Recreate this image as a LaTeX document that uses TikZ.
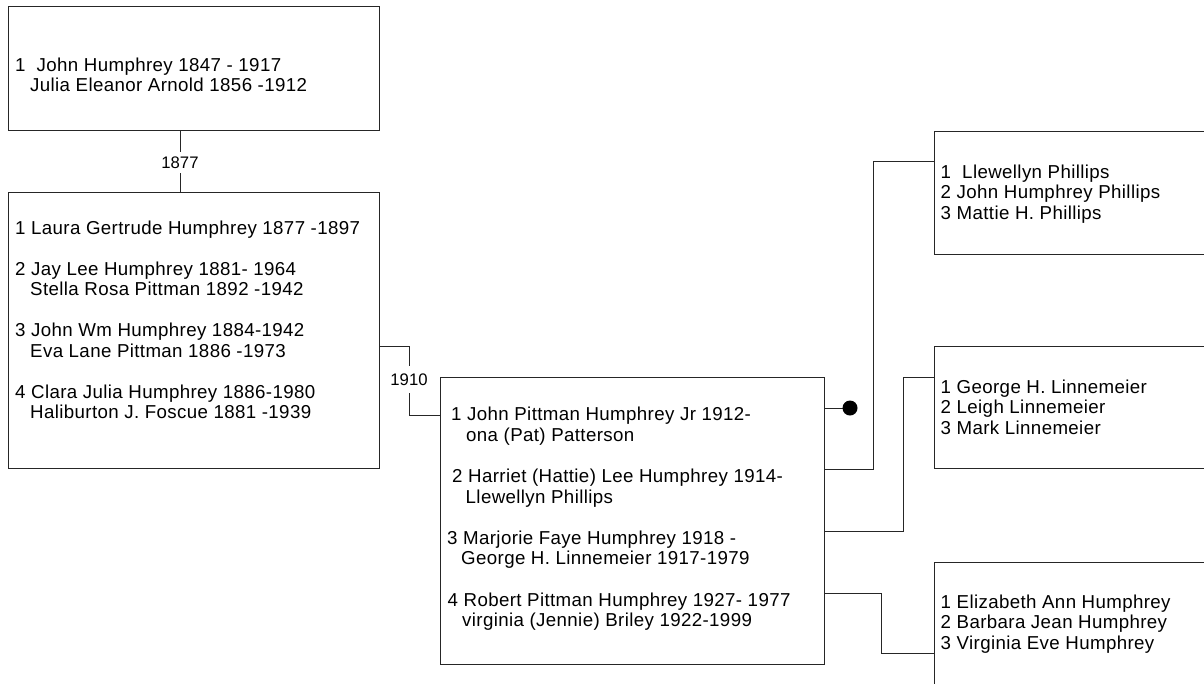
\documentclass[tikz,border=0pt]{standalone}
\usepackage{fontspec}
\setmainfont{Liberation Sans}
\newfontfamily\boxfont{Liberation Sans}[LetterSpace=2.0]
\tikzset{
  box/.style={draw=black!85, line width=1pt, inner sep=0pt, outer sep=0pt, anchor=north west},
  tx/.style={anchor=base west, inner sep=0pt, font=\boxfont\fontsize{18.7}{20}\selectfont},
  yr/.style={inner sep=0pt, font=\fontsize{16.7}{18}\selectfont},
  conn/.style={draw=black!85, line width=1pt},
}
\begin{document}
\begin{tikzpicture}[x=1pt, y=-1pt]
\useasboundingbox (0,0) rectangle (1204,683);
\clip (0,0) rectangle (1204,683);
% boxes
\node[box, minimum width=371pt, minimum height=124pt] (A) at (8,6) {};
\node[box, minimum width=371pt, minimum height=276pt] (B) at (8,192) {};
\node[box, minimum width=384pt, minimum height=287pt] (C) at (440,377) {};
\node[box, minimum width=290pt, minimum height=123pt] (D) at (934,131) {};
\node[box, minimum width=290pt, minimum height=122pt] (E) at (934,346) {};
\node[box, minimum width=290pt, minimum height=140pt] (F) at (934,562) {};
% texts A
\node[tx] (a1) at (15,71) {1\ \ John Humphrey 1847 - 1917};
\node[tx] (a2) at (30,91) {Julia Eleanor Arnold 1856 -1912};
% texts B
\node[tx] (b1) at (15,234.3) {1 Laura Gertrude Humphrey 1877 -1897};
\node[tx] (b2) at (15,275.3) {2 Jay Lee Humphrey 1881- 1964};
\node[tx] (b3) at (30,295.8) {Stella Rosa Pittman 1892 -1942};
\node[tx] (b4) at (15,336.8) {3 John Wm Humphrey 1884-1942};
\node[tx] (b5) at (30,357.3) {Eva Lane Pittman 1886 -1973};
\node[tx] (b6) at (15,398.3) {4 Clara Julia Humphrey 1886-1980};
\node[tx] (b7) at (30,418.8) {Haliburton J. Foscue 1881 -1939};
% texts C
\node[tx] (c1) at (451,420.7) {1 John Pittman Humphrey Jr 1912-};
\node[tx] (c2) at (466,441.3) {ona (Pat) Patterson};
\node[tx] (c3) at (452,482.5) {2 Harriet (Hattie) Lee Humphrey 1914-};
\node[tx] (c4) at (465.5,503.1) {Llewellyn Phillips};
\node[tx] (c5) at (447,544.3) {3 Marjorie Faye Humphrey 1918 -};
\node[tx] (c6) at (461,564.9) {George H. Linnemeier 1917-1979};
\node[tx] (c7) at (447.5,606.1) {4 Robert Pittman Humphrey 1927- 1977};
\node[tx] (c8) at (462,626.7) {virginia (Jennie) Briley 1922-1999};
% texts D
\node[tx] (d1) at (940.5,178.3) {1\ \ Llewellyn Phillips};
\node[tx] (d2) at (940.5,198.8) {2 John Humphrey Phillips};
\node[tx] (d3) at (940.5,219.3) {3 Mattie H. Phillips};
% texts E
\node[tx] (e1) at (940.5,393.3) {1 George H. Linnemeier};
\node[tx] (e2) at (940.5,413.8) {2 Leigh Linnemeier};
\node[tx] (e3) at (940.5,434.3) {3 Mark Linnemeier};
% texts F
\node[tx] (f1) at (940.5,608.3) {1 Elizabeth Ann Humphrey};
\node[tx] (f2) at (940.5,628.8) {2 Barbara Jean Humphrey};
\node[tx] (f3) at (940.5,649.3) {3 Virginia Eve Humphrey};
% year labels
\node[yr, minimum height=21pt] (y1877) at (180,162.5) {1877};
\node[yr, minimum height=27pt] (y1910) at (409,379.5) {1910};
% connectors
\draw[conn] (A.south -| y1877) -- (y1877.north);
\draw[conn] (y1877.south) -- (B.north -| y1877);
\draw[conn] (B.east |- 0,346) -| (y1910.north);
\draw[conn] (y1910.south) |- (C.west |- 0,415);
\coordinate (dot) at (850,408);
\draw[conn] (C.east |- dot) -- (dot);
\fill[black] (dot) circle (7.5pt);
\draw[conn] (C.east |- 0,469) -| (873,161) -- (D.west |- 0,161);
\draw[conn] (C.east |- 0,531) -| (903,377) -- (E.west |- 0,377);
\draw[conn] (C.east |- 0,593) -| (881,653) -- (F.west |- 0,653);
\end{tikzpicture}
\end{document}
